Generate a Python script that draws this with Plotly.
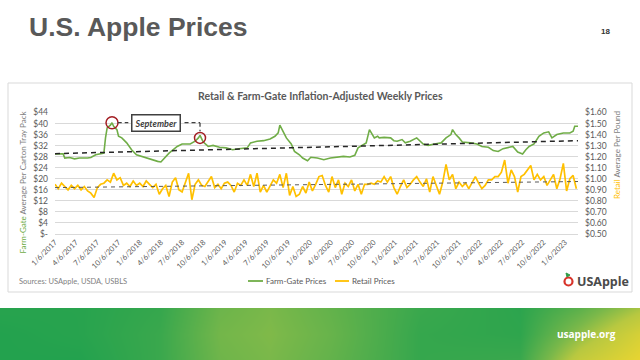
import pandas as pd
import plotly.graph_objects as go

# ---------------- data ----------------
START = "2017-01-06"

farm_weeks = [0, 5, 6, 9, 12, 15, 20, 22, 25, 28,
              30, 31, 32, 34, 35, 36, 38, 39, 41, 44,
              47, 50, 56, 63, 65, 67, 70, 75, 78, 83,
              86, 88, 89, 91, 94, 97, 101, 105, 109, 113,
              118, 120, 124, 128, 132, 135, 137, 138, 140, 142,
              145, 147, 150, 152, 155, 157, 161, 165, 169, 173,
              177, 181, 184, 186, 189, 191, 193, 194, 196, 198,
              199, 202, 206, 208, 210, 213, 215, 218, 222, 226,
              229, 233, 237, 240, 243, 244, 246, 248, 250, 255,
              259, 262, 266, 269, 272, 275, 278, 281, 284, 287,
              289, 291, 294, 297, 300, 303, 305, 308, 312, 316,
              318, 319, 321]
farm_values = [29.0, 29.0, 27.5, 27.7, 27.2, 27.5, 27.5, 27.7, 28.7, 29.0,
               29.3, 34.8, 38.4, 39.4, 40.3, 39.0, 37.8, 35.4, 34.8, 33.0,
               30.5, 28.7, 27.5, 26.3, 26.1, 27.5, 29.3, 31.7, 32.6, 32.6,
               33.6, 34.8, 35.7, 33.3, 31.7, 32.1, 31.4, 31.2, 30.5, 30.9,
               31.2, 33.0, 33.6, 33.8, 34.4, 35.4, 36.6, 39.4, 37.2, 34.8,
               32.6, 29.9, 28.7, 27.5, 26.5, 27.8, 27.5, 26.9, 27.5, 27.8,
               28.1, 27.9, 28.5, 31.2, 32.4, 33.0, 37.8, 36.6, 34.8, 35.4,
               34.8, 35.0, 34.8, 33.8, 33.6, 34.2, 33.0, 33.6, 34.8, 32.6,
               32.1, 32.6, 33.0, 34.8, 36.0, 37.8, 36.0, 34.8, 33.3, 33.0,
               32.6, 31.7, 31.4, 30.2, 29.9, 30.9, 31.4, 31.7, 29.7, 29.0,
               30.5, 31.7, 32.6, 35.4, 36.6, 37.0, 34.8, 36.0, 36.6, 36.6,
               37.2, 39.0, 39.0]

# retail prices, every second week from START
retail_values = [0.95, 0.91, 0.96, 0.93, 0.90, 0.94, 0.91, 0.94, 0.90, 0.93,
                 0.89, 0.87, 0.83, 0.92, 0.95, 0.96, 0.99, 0.97, 1.05, 0.99,
                 1.01, 0.94, 0.96, 0.93, 0.98, 0.94, 0.96, 0.93, 0.98, 0.95,
                 0.92, 0.95, 0.86, 0.91, 0.94, 0.84, 0.97, 1.01, 0.90, 0.88,
                 0.97, 1.05, 0.81, 0.95, 0.99, 0.94, 0.93, 0.97, 1.02, 0.92,
                 0.95, 0.91, 0.96, 0.97, 0.94, 0.88, 0.96, 0.94, 0.99, 0.94,
                 1.04, 0.93, 1.05, 0.88, 0.94, 0.88, 0.94, 0.99, 0.96, 1.04,
                 0.92, 1.05, 0.85, 0.93, 0.84, 0.86, 0.93, 0.87, 0.97, 0.89,
                 0.95, 1.02, 1.03, 0.94, 0.88, 1.02, 0.92, 0.99, 0.86, 0.96,
                 0.93, 0.99, 0.89, 0.95, 0.86, 0.95, 0.95, 0.96, 0.95, 0.98,
                 0.97, 1.02, 0.97, 1.02, 0.92, 0.86, 0.93, 0.99, 0.92, 0.95,
                 0.99, 1.02, 0.97, 0.93, 1.00, 0.88, 1.02, 0.94, 0.86, 0.97,
                 1.13, 0.99, 1.04, 0.91, 0.97, 0.93, 0.96, 0.91, 0.97, 1.02,
                 0.96, 0.91, 0.94, 0.99, 0.99, 1.02, 1.02, 1.06, 1.17, 0.96,
                 1.08, 1.02, 0.88, 1.02, 1.04, 1.08, 1.12, 0.99, 1.04, 0.99,
                 1.02, 0.94, 0.99, 1.04, 0.91, 1.00, 1.14, 0.89, 1.00, 1.03,
                 0.91]

farm_trend = [29.1, 33.8]
retail_trend = [0.92, 0.975]

tick_labels = ["1/6/2017", "4/6/2017", "7/6/2017", "10/6/2017",
               "1/6/2018", "4/6/2018", "7/6/2018", "10/6/2018",
               "1/6/2019", "4/6/2019", "7/6/2019", "10/6/2019",
               "1/6/2020", "4/6/2020", "7/6/2020", "10/6/2020",
               "1/6/2021", "4/6/2021", "7/6/2021", "10/6/2021",
               "1/6/2022", "4/6/2022", "7/6/2022", "10/6/2022",
               "1/6/2023"]
left_ticks = [0, 4, 8, 12, 16, 20, 24, 28, 32, 36, 40, 44]
right_ticks = [0.5, 0.6, 0.7, 0.8, 0.9, 1.0, 1.1, 1.2, 1.3, 1.4, 1.5, 1.6]

# ---------------- derived ----------------
start = pd.Timestamp(START)
farm_dates = [start + pd.Timedelta(days=7 * w) for w in farm_weeks]
retail_dates = list(pd.date_range(START, periods=len(retail_values), freq="14D"))
trend_dates = [farm_dates[0], farm_dates[-1]]
tick_vals = [pd.to_datetime(t, format="%m/%d/%Y") for t in tick_labels]
left_text = ["$-" if v == 0 else f"${v}" for v in left_ticks]
right_text = [f"${v:.2f}" for v in right_ticks]

peak1 = farm_values.index(max(farm_values[:30]))
peak2 = farm_weeks.index(89)


def wk(w):
    return start + pd.Timedelta(days=7 * w)


W, H = 640, 360


def px(x):
    return x / W


def py(y):
    return 1 - y / H


GREEN = "#70AD47"
GOLD = "#FFC000"
GREY = "#595959"
FONT = "Lato"

fig = go.Figure()

# banner gradient (decoration)
banner_x = [0, 80, 160, 220, 270, 330, 420, 520, 580, 640]
banner_y = [0, 26, 52]
banner_z = [[0.0, 0.0, 0.10, 0.33, 0.38, 0.28, 0.08, 0.10, 0.70, 1.00],
            [0.0, 0.02, 0.10, 0.35, 0.40, 0.30, 0.08, 0.05, 0.45, 0.85],
            [0.02, 0.02, 0.08, 0.32, 0.38, 0.28, 0.10, 0.04, 0.25, 0.55]]
fig.add_trace(go.Heatmap(x=banner_x, y=banner_y, z=banner_z, zsmooth="best",
                         zmin=0, zmax=1, showscale=False, hoverinfo="skip",
                         colorscale=[[0, "#23A24E"], [0.38, "#7AB84A"],
                                     [0.6, "#B8C840"], [1, "#E8D531"]],
                         xaxis="x3", yaxis="y3"))

fig.add_trace(go.Scatter(x=farm_dates, y=farm_values, mode="lines",
                         name="Farm-Gate Prices",
                         line=dict(color=GREEN, width=1.6), showlegend=False))
fig.add_trace(go.Scatter(x=trend_dates, y=farm_trend, mode="lines",
                         line=dict(color="#262626", width=1.5, dash="5px,4px"),
                         showlegend=False, hoverinfo="skip"))
fig.add_trace(go.Scatter(x=retail_dates, y=retail_values, mode="lines",
                         name="Retail Prices", yaxis="y2",
                         line=dict(color=GOLD, width=1.7), showlegend=False))
fig.add_trace(go.Scatter(x=trend_dates, y=retail_trend, mode="lines", yaxis="y2",
                         line=dict(color="#595959", width=1, dash="4px,4px"),
                         showlegend=False, hoverinfo="skip"))

shapes = []
# chart box
shapes.append(dict(type="rect", xref="paper", yref="paper",
                   x0=px(8), x1=px(632), y0=py(292), y1=py(83),
                   line=dict(color="#D9D9D9", width=1), layer="below"))
# circles on the two September peaks
shapes.append(dict(type="circle", xref="x", yref="y", xsizemode="pixel",
                   ysizemode="pixel", xanchor=farm_dates[peak1],
                   yanchor=farm_values[peak1], x0=-6, x1=6, y0=-6, y1=6,
                   line=dict(color="#A31F24", width=1.5)))
shapes.append(dict(type="circle", xref="x", yref="y", xsizemode="pixel",
                   ysizemode="pixel", xanchor=farm_dates[peak2],
                   yanchor=farm_values[peak2], x0=-5.5, x1=5.5, y0=-8, y1=3,
                   line=dict(color="#A31F24", width=1.5)))
# dashed connectors
ylab = farm_values[peak1]
for x0, x1, y0, y1 in [(wk(38.5), wk(45), ylab, ylab),
                       (wk(79.5), wk(89), ylab, ylab),
                       (wk(89), wk(89), ylab, 37.2)]:
    shapes.append(dict(type="line", xref="x", yref="y", x0=x0, x1=x1,
                       y0=y0, y1=y1,
                       line=dict(color="#404040", width=1.3, dash="4px,3px")))
# manual legend lines
shapes.append(dict(type="line", xref="paper", yref="paper", x0=px(248), x1=px(263),
                   y0=py(281), y1=py(281), line=dict(color=GREEN, width=1.8)))
shapes.append(dict(type="line", xref="paper", yref="paper", x0=px(335), x1=px(349),
                   y0=py(281), y1=py(281), line=dict(color=GOLD, width=1.8)))
# logo apple
shapes.append(dict(type="circle", xref="paper", yref="paper",
                   x0=px(564.5), x1=px(572.5), y0=py(285.5), y1=py(277.5),
                   line=dict(color="#D8342B", width=2.2)))
shapes.append(dict(type="path", xref="paper", yref="paper",
                   path=f"M {px(567)},{py(277)} L {px(566)},{py(273)} L {px(570)},{py(275)} Z",
                   fillcolor="#2E9B47", line=dict(color="#2E9B47", width=1)))

annotations = []


def text(x, y, s, size, color=GREY, xanchor="left", bold=False, family=FONT,
         angle=0, yanchor="middle"):
    if bold:
        s = f"<b>{s}</b>"
    annotations.append(dict(x=px(x), y=py(y), xref="paper", yref="paper", text=s,
                            showarrow=False, xanchor=xanchor, yanchor=yanchor,
                            textangle=angle,
                            font=dict(size=size, color=color, family=family)))


text(27, 27, "U.S. Apple Prices", 26.5, color="#595959", bold=True,
     family="Liberation Sans, Arial")
text(605, 31, "18", 8, color="#333333", xanchor="center", bold=True,
     family="Liberation Sans")
text(320.5, 96, "Retail &amp; Farm-Gate Inflation-Adjusted Weekly Prices", 10.5,
     xanchor="center", bold=True)
text(22.5, 182, f"<span style='color:{GREEN}'>Farm-Gate</span> Average Per Carton Tray Pack",
     8, color="#7F7F7F", xanchor="center", angle=-90)
text(617, 155, f"<span style='color:{GOLD}'>Retail</span> Average Per Pound",
     8, color="#7F7F7F", xanchor="center", angle=-90)
text(264, 281, "Farm-Gate Prices", 8)
text(350, 281, "Retail Prices", 8)
text(17, 281, "Sources: USApple, USDA, USBLS", 7.5, color="#7F7F7F")
text(575, 281, "USApple", 12.5, color="#4A4A4A", bold=True, family="Open Sans")
text(586, 334, "usapple.org", 10, color="white", xanchor="center", bold=True,
     family="Open Sans")

annotations.append(dict(x=wk(62), y=ylab, xref="x", yref="y",
                        text="<i><b>September</b></i>", showarrow=False,
                        font=dict(size=9, color="#404040", family=FONT),
                        bgcolor="white", bordercolor="#404040", borderwidth=1.5,
                        borderpad=2))

fig.update_layout(
    width=W, height=H,
    margin=dict(l=0, r=0, t=0, b=0, pad=0, autoexpand=False),
    paper_bgcolor="white", plot_bgcolor="white",
    font=dict(family=FONT, color=GREY),
    showlegend=False,
    xaxis=dict(domain=[px(55), px(578)], type="date",
               range=[farm_dates[0], farm_dates[-1]],
               tickvals=tick_vals, ticktext=tick_labels, tickangle=-45,
               tickfont=dict(size=7.5, color=GREY), showgrid=False,
               showline=True, linecolor="#D9D9D9", linewidth=1, ticks="",
               anchor="y", automargin=False),
    yaxis=dict(domain=[py(234), py(112.5)], range=[0, 44],
               tickvals=left_ticks, ticktext=left_text,
               tickfont=dict(size=8.5, color=GREY), gridcolor="#D9D9D9",
               gridwidth=1, zeroline=False, showline=False,
               ticklabelstandoff=6, anchor="x", automargin=False),
    yaxis2=dict(overlaying="y", side="right", anchor="x", range=[0.5, 1.6],
                tickvals=right_ticks, ticktext=right_text,
                tickfont=dict(size=8.5, color=GREY), showgrid=False,
                zeroline=False, showline=False, ticklabelstandoff=6,
                automargin=False),
    xaxis3=dict(domain=[0, 1], range=[0, 640], visible=False, anchor="y3",
                fixedrange=True, automargin=False),
    yaxis3=dict(domain=[0, py(308)], range=[0, 52], visible=False, anchor="x3",
                fixedrange=True, automargin=False),
    shapes=shapes,
    annotations=annotations,
)

fig.write_html("out.html")
